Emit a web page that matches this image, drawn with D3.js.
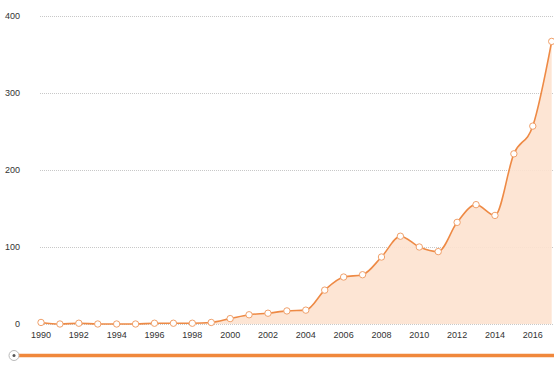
<!DOCTYPE html>
<html>
<head>
<meta charset="utf-8">
<script src="https://cdn.jsdelivr.net/npm/d3@7"></script>
<style>
  body { margin: 0; background: #fff; }
  svg { display: block; font-family: "Liberation Sans", Arial, sans-serif; }
</style>
</head>
<body>
<div id="chart"></div>
<script>
// 資料
const years = [1990, 1991, 1992, 1993, 1994, 1995, 1996, 1997, 1998, 1999,
               2000, 2001, 2002, 2003, 2004, 2005, 2006, 2007, 2008, 2009,
               2010, 2011, 2012, 2013, 2014, 2015, 2016, 2017];
const counts = [2, 0, 1, 0, 0, 0, 1, 1, 1, 2,
                7, 12, 14, 17, 18, 44, 61, 64, 87, 114,
                100, 94, 132, 155, 141, 221, 257, 367];
const yTicks = [0, 100, 200, 300, 400];
const xTickYears = [1990, 1992, 1994, 1996, 1998, 2000, 2002, 2004, 2006, 2008, 2010, 2012, 2014, 2016];

const width = 554, height = 365;
const data = years.map((y, i) => ({ year: y, value: counts[i] }));

const svg = d3.select("#chart").append("svg")
    .attr("width", width)
    .attr("height", height);

// 比例尺
const x = d3.scaleLinear().domain([1990, 2017]).range([41, 551.7]);
const y = d3.scaleLinear().domain([0, 400]).range([324, 16]);

// 格線
svg.append("g")
    .selectAll("line")
    .data(yTicks)
    .enter()
    .append("line")
    .attr("x1", 40)
    .attr("x2", width)
    .attr("y1", d => Math.round(y(d)) + 0.5)
    .attr("y2", d => Math.round(y(d)) + 0.5)
    .attr("stroke", "#c8c8c8")
    .attr("stroke-width", 1)
    .attr("stroke-dasharray", "1,1");

// y 軸標籤
svg.append("g")
    .selectAll("text")
    .data(yTicks)
    .enter()
    .append("text")
    .attr("x", 20)
    .attr("y", d => y(d) + 3)
    .attr("text-anchor", "end")
    .attr("font-size", 9)
    .attr("fill", "#333")
    .text(d => d);

// x 軸標籤
svg.append("g")
    .selectAll("text")
    .data(xTickYears)
    .enter()
    .append("text")
    .attr("x", d => x(d))
    .attr("y", 338)
    .attr("text-anchor", "middle")
    .attr("font-size", 9)
    .attr("fill", "#333")
    .text(d => d);

const curve = d3.curveMonotoneX;

// 面積
const area = d3.area()
    .x(d => x(d.year))
    .y0(y(0))
    .y1(d => y(d.value))
    .curve(curve);

svg.append("path")
    .datum(data)
    .attr("d", area)
    .attr("fill", "#fde2cf")
    .attr("fill-opacity", 0.9);

// 線
const line = d3.line()
    .x(d => x(d.year))
    .y(d => y(d.value))
    .curve(curve);

svg.append("path")
    .datum(data)
    .attr("d", line)
    .attr("fill", "none")
    .attr("stroke", "#ee8a45")
    .attr("stroke-width", 1.6);

// 點
svg.append("g")
    .selectAll("circle")
    .data(data)
    .enter()
    .append("circle")
    .attr("cx", d => x(d.year))
    .attr("cy", d => y(d.value))
    .attr("r", 3.2)
    .attr("fill", "#fff")
    .attr("stroke", "#f0a06a")
    .attr("stroke-width", 1);

// 下方滑桿
svg.append("line")
    .attr("x1", 18)
    .attr("x2", width)
    .attr("y1", 355.5)
    .attr("y2", 355.5)
    .attr("stroke", "#f0883c")
    .attr("stroke-width", 3.5);

svg.append("circle")
    .attr("cx", 14)
    .attr("cy", 355.5)
    .attr("r", 5)
    .attr("fill", "#fff")
    .attr("stroke", "#bbb")
    .attr("stroke-width", 1);

svg.append("circle")
    .attr("cx", 14)
    .attr("cy", 355.5)
    .attr("r", 1.5)
    .attr("fill", "#555");
</script>
</body>
</html>
